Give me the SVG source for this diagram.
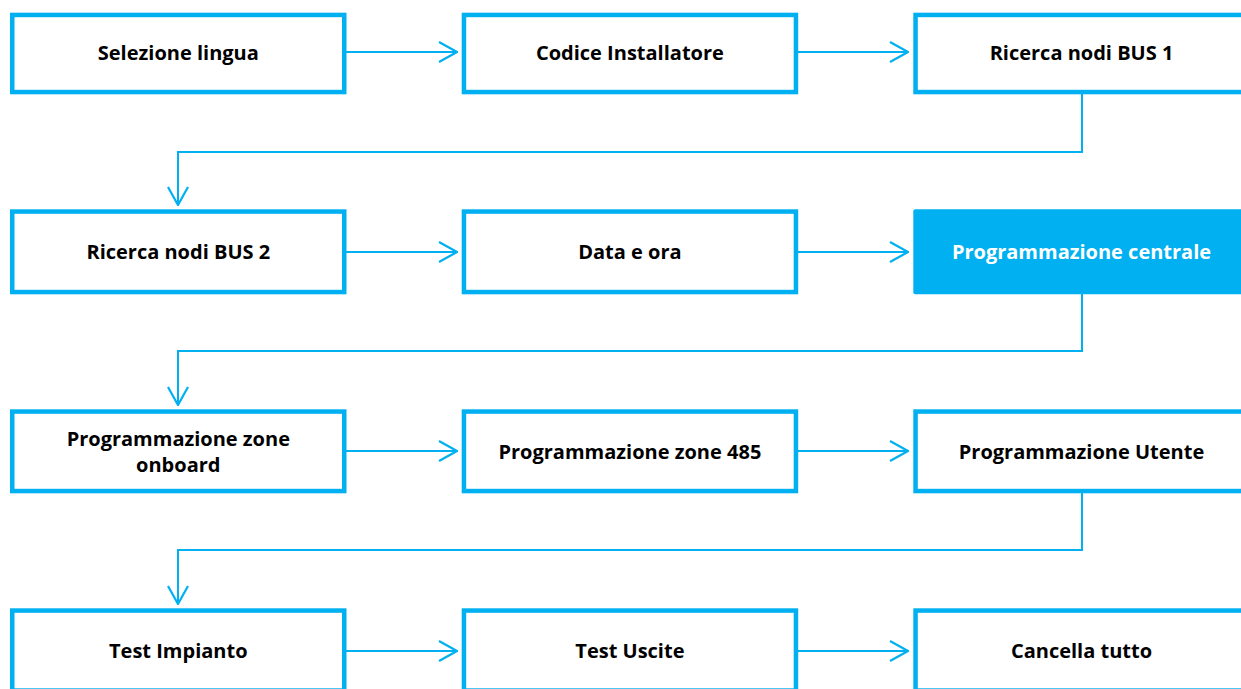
<svg xmlns="http://www.w3.org/2000/svg" width="1241" height="689" viewBox="0 0 1241 689">
<defs>
<style>
.box{fill:#ffffff;stroke:#00B0F0;stroke-width:4.5}
.hl{fill:#00B0F0;stroke:none}
.t{font-family:"Open Sans","Noto Sans","Liberation Sans",sans-serif;font-weight:bold;font-size:20px;fill:#000000;text-anchor:middle}
.tw{fill:#ffffff}
.c{fill:none;stroke:#00B0F0;stroke-width:2}
</style>
<marker id="ah" viewBox="0 0 20 22" refX="19" refY="11" markerWidth="20" markerHeight="22" markerUnits="userSpaceOnUse" orient="auto">
<path d="M1,1 L19,11 L1,21" fill="none" stroke="#00B0F0" stroke-width="2.2"/>
</marker>
</defs>
<rect width="1241" height="689" fill="#ffffff"/>
<g id="connectors">
<line class="c" x1="346" y1="52" x2="457" y2="52" marker-end="url(#ah)"/>
<line class="c" x1="797" y1="52" x2="908" y2="52" marker-end="url(#ah)"/>
<polyline class="c" points="1082,94 1082,152 178,152 178,205" marker-end="url(#ah)"/>
<line class="c" x1="346" y1="252" x2="457" y2="252" marker-end="url(#ah)"/>
<line class="c" x1="797" y1="252" x2="908" y2="252" marker-end="url(#ah)"/>
<polyline class="c" points="1082,294 1082,351 178,351 178,405" marker-end="url(#ah)"/>
<line class="c" x1="346" y1="451" x2="457" y2="451" marker-end="url(#ah)"/>
<line class="c" x1="797" y1="451" x2="908" y2="451" marker-end="url(#ah)"/>
<polyline class="c" points="1082,493 1082,550 178,550 178,604" marker-end="url(#ah)"/>
<line class="c" x1="346" y1="651" x2="457" y2="651" marker-end="url(#ah)"/>
<line class="c" x1="797" y1="651" x2="908" y2="651" marker-end="url(#ah)"/>
</g>
<g id="n1"><rect class="box" x="12.25" y="14.95" width="332" height="77.1"/><text class="t" x="178.3" y="60">Selezione lingua</text></g>
<g id="n2"><rect class="box" x="463.95" y="14.95" width="332" height="77.1"/><text class="t" x="629.9" y="60">Codice Installatore</text></g>
<g id="n3"><rect class="box" x="915.55" y="14.95" width="332" height="77.1"/><text class="t" x="1081.5" y="60">Ricerca nodi BUS 1</text></g>
<g id="n4"><rect class="box" x="12.25" y="211.55" width="332" height="80.5"/><text class="t" x="178.3" y="259">Ricerca nodi BUS 2</text></g>
<g id="n5"><rect class="box" x="463.95" y="211.55" width="332" height="80.5"/><text class="t" x="629.9" y="259">Data e ora</text></g>
<g id="n6"><rect class="hl" x="913.3" y="209.3" width="336.5" height="85" rx="2"/><text class="t tw" x="1081.5" y="259">Programmazione centrale</text></g>
<g id="n7"><rect class="box" x="12.25" y="411.55" width="332" height="79.5"/><text class="t" x="178.3" y="445.5">Programmazione zone</text><text class="t" x="178.3" y="471.5">onboard</text></g>
<g id="n8"><rect class="box" x="463.95" y="411.55" width="332" height="79.5"/><text class="t" x="629.9" y="458.5">Programmazione zone 485</text></g>
<g id="n9"><rect class="box" x="915.55" y="411.55" width="332" height="79.5"/><text class="t" x="1081.5" y="458.5">Programmazione Utente</text></g>
<g id="n10"><rect class="box" x="12.25" y="610.55" width="332" height="80"/><text class="t" x="178.3" y="658">Test Impianto</text></g>
<g id="n11"><rect class="box" x="463.95" y="610.55" width="332" height="80"/><text class="t" x="629.9" y="658">Test Uscite</text></g>
<g id="n12"><rect class="box" x="915.55" y="610.55" width="332" height="80"/><text class="t" x="1081.5" y="658">Cancella tutto</text></g>
</svg>
